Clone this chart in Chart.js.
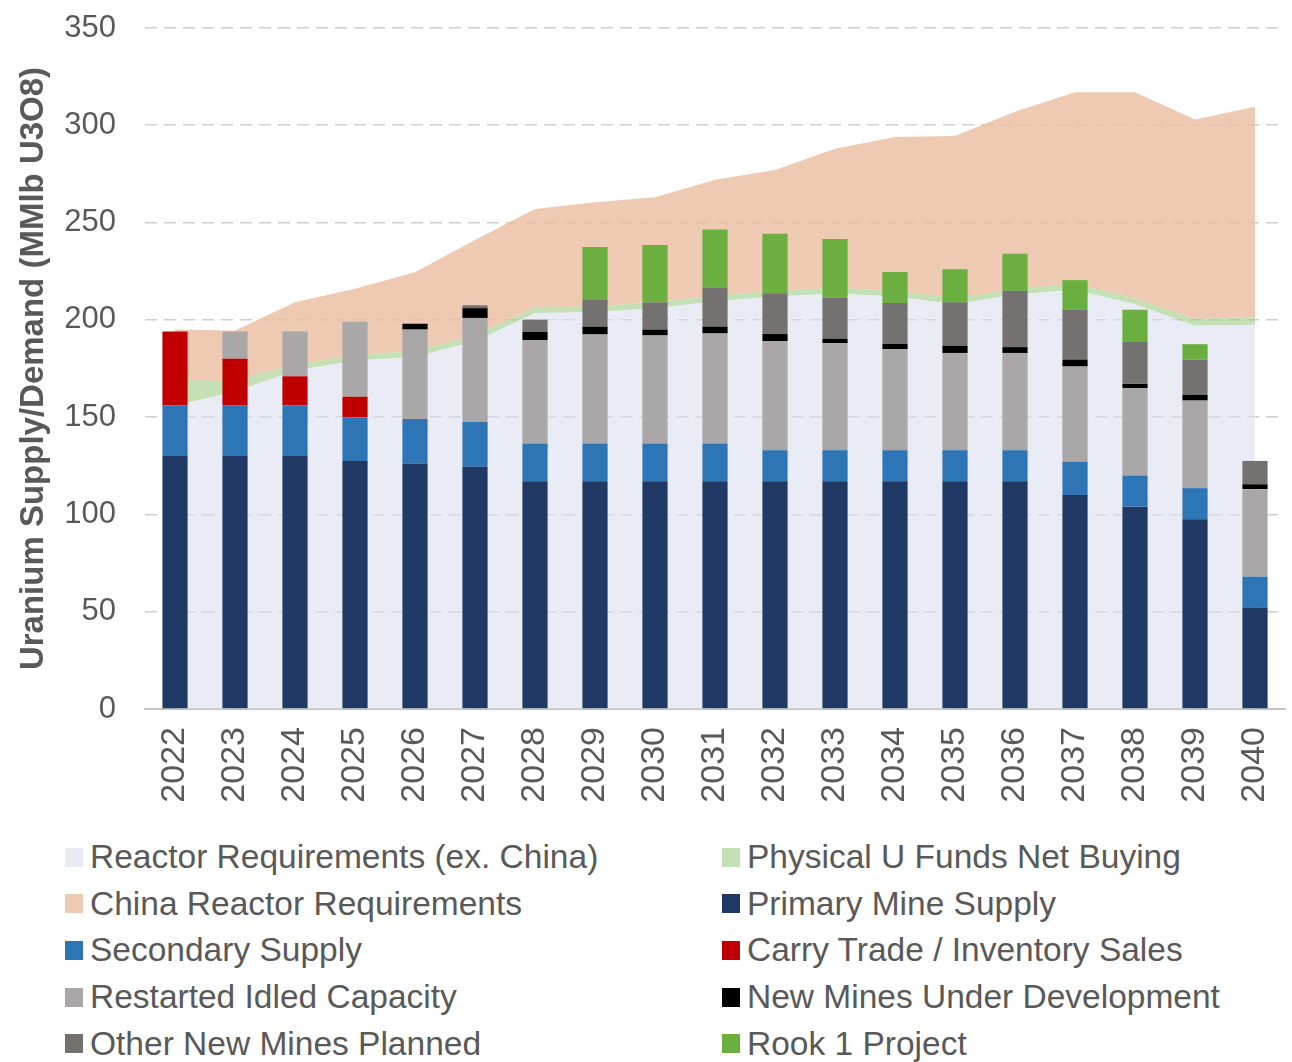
<!DOCTYPE html>
<html>
<head>
<meta charset="utf-8">
<script src="https://cdn.jsdelivr.net/npm/chart.js@4.4.1/dist/chart.umd.min.js"></script>
<style>
  html, body { margin: 0; padding: 0; background: #fff; }
  #wrap { width: 1292px; height: 820px; }
  #legend {
    position: absolute; left: 0; top: 834px; width: 1292px;
    display: grid; grid-template-columns: 657px 570px; grid-auto-rows: 46.6px;
    padding-left: 65px; box-sizing: border-box;
    font-family: "Liberation Sans", Arial, sans-serif; font-size: 33.5px; color: #595959;
  }
  #legend .item { display: flex; align-items: center; white-space: nowrap; }
  #legend .box { width: 18px; height: 19px; margin-right: 7px; flex: none; }
</style>
</head>
<body>
<div id="wrap"><canvas id="chart" width="1292" height="820"></canvas></div>
<div id="legend"></div>
<script>
const years = ['2022', '2023', '2024', '2025', '2026', '2027', '2028', '2029', '2030', '2031',
               '2032', '2033', '2034', '2035', '2036', '2037', '2038', '2039', '2040'];

// demand areas (stacked)
const reactorExChina = [156, 163, 174, 179, 181, 189, 203.5, 204, 206, 209.5, 212, 213.5, 212, 208, 213, 215.5, 208, 197, 197.5];
const physicalFunds  = [13, 6, 3, 3, 3, 3, 3, 3, 3, 3, 3, 3, 3, 3, 3, 3, 3, 3.5, 4];
const chinaReactor   = [26, 25.5, 32, 34, 40.5, 49, 50.5, 53.5, 54, 59.5, 62, 71.5, 79, 83.5, 91, 98.5, 106, 102.5, 108];

// supply bars (stacked)
const primaryMine   = [130, 130, 130, 127.5, 126, 124.5, 117, 117, 117, 117, 117, 117, 117, 117, 117, 110, 104, 97.5, 52];
const secondary     = [26, 26, 26, 22.5, 23, 23, 19.5, 19.5, 19.5, 19.5, 16, 16, 16, 16, 16, 17, 16, 16, 16];
const carryTrade    = [38, 24, 15, 10.5, 0, 0, 0, 0, 0, 0, 0, 0, 0, 0, 0, 0, 0, 0, 0];
const restarted     = [0, 14, 23, 38.5, 46, 53.5, 53, 56, 55.5, 56.5, 56, 55, 52, 50, 50, 49, 45, 45, 45];
const newMinesDev   = [0, 0, 0, 0, 3, 5, 4.3, 4, 3, 3.5, 3.7, 2.2, 2.6, 3.7, 3, 3.6, 2.1, 3, 2.5];
const otherNewMines = [0, 0, 0, 0, 0, 1.5, 6.3, 14, 14, 20, 21, 21.3, 21, 22.3, 29, 25.5, 21.5, 18, 12];
const rook1         = [0, 0, 0, 0, 0, 0, 0, 27, 29.5, 30, 30.5, 30, 16, 17, 19, 15.3, 16.6, 8, 0];

const yTicks = [0, 50, 100, 150, 200, 250, 300, 350];

const textColor = '#595959';
const font = '"Liberation Sans", Arial, sans-serif';

function area(label, data, color, legendColor, fill) {
  return {
    type: 'line', label: label, data: data, stack: 'demand', order: 2,
    backgroundColor: color, legendColor: legendColor,
    borderWidth: 0, pointRadius: 0, tension: 0, fill: fill
  };
}

function bar(label, data, color) {
  return {
    type: 'bar', label: label, data: data, stack: 'supply', order: 1,
    backgroundColor: color, legendColor: color,
    barPercentage: 0.42, categoryPercentage: 1, borderWidth: 0
  };
}

const datasets = [
  area('Reactor Requirements (ex. China)', reactorExChina, 'rgba(218,223,237,0.6)', '#e8ebf3', 'origin'),
  area('Physical U Funds Net Buying', physicalFunds, 'rgba(166,208,140,0.65)', '#c5e0b4', '-1'),
  area('China Reactor Requirements', chinaReactor, 'rgba(234,189,159,0.8)', '#efcab2', '-1'),
  bar('Primary Mine Supply', primaryMine, '#1f3864'),
  bar('Secondary Supply', secondary, '#2e75b6'),
  bar('Carry Trade / Inventory Sales', carryTrade, '#c00000'),
  bar('Restarted Idled Capacity', restarted, '#a9a7a7'),
  bar('New Mines Under Development', newMinesDev, '#000000'),
  bar('Other New Mines Planned', otherNewMines, '#767171'),
  bar('Rook 1 Project', rook1, '#6aaf3f')
];

const chart = new Chart(document.getElementById('chart'), {
  data: { labels: years, datasets: datasets },
  options: {
    responsive: false,
    animation: false,
    layout: { padding: { top: 28, right: 7, left: 0, bottom: 0 } },
    plugins: { legend: { display: false }, tooltip: { enabled: false } },
    scales: {
      x: {
        stacked: true,
        offset: true,
        grid: { display: false },
        border: { display: true, color: '#c4c4c4', width: 2 },
        ticks: {
          color: textColor, font: { family: font, size: 34 },
          minRotation: 90, maxRotation: 90, autoSkip: false, padding: 10
        },
        afterFit: s => { s.height = 111; s.paddingLeft = 0; s.paddingRight = 0; }
      },
      y: {
        stacked: true,
        min: 0, max: 350,
        afterBuildTicks: s => { s.ticks = yTicks.map(v => ({ value: v })); },
        grid: {
          color: ctx => ctx.tick && ctx.tick.value === 0 ? 'rgba(0,0,0,0)' : '#cfcfcf',
          lineWidth: 1.6, drawTicks: false
        },
        border: { display: false, dash: [12, 7] },
        ticks: { color: textColor, font: { family: font, size: 31 }, padding: 29 },
        title: {
          display: true, text: 'Uranium Supply/Demand (MMlb U3O8)',
          color: textColor, font: { family: font, size: 33, weight: 'bold' },
          padding: { top: 14, bottom: 0 }
        },
        afterFit: s => { s.width = 145; s.paddingTop = 0; s.paddingBottom = 0; }
      }
    }
  }
});

// two-column legend, row by row
const legend = document.getElementById('legend');
chart.data.datasets.forEach(ds => {
  const item = document.createElement('div');
  item.className = 'item';
  const box = document.createElement('span');
  box.className = 'box';
  box.style.background = ds.legendColor;
  const txt = document.createElement('span');
  txt.textContent = ds.label;
  item.appendChild(box);
  item.appendChild(txt);
  legend.appendChild(item);
});
</script>
</body>
</html>
